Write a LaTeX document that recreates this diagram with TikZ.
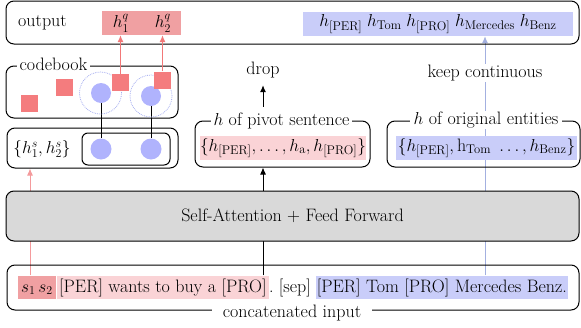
\documentclass[tikz,border=0pt]{standalone}
\usepackage{amsmath}
\usetikzlibrary{arrows.meta,backgrounds,calc}
\definecolor{qpink}{HTML}{F0A0A2}
\definecolor{sqred}{HTML}{F47C7E}
\definecolor{lpink}{HTML}{FAD3D6}
\definecolor{hblue}{HTML}{C9CDF9}
\definecolor{cblue}{HTML}{B0B3FD}
\definecolor{dblue}{HTML}{A6AEF0}
\definecolor{lineblue}{HTML}{A3B0E0}
\definecolor{arrowred}{HTML}{F27878}
\definecolor{lightred}{HTML}{F49A9C}
\definecolor{blockgray}{HTML}{D9D9D9}
\newcommand{\tsub}[1]{\text{#1}}

\begin{document}
\begin{tikzpicture}[x=1pt,y=-1pt,
  every node/.style={font=\fontsize{18}{22}\selectfont, inner sep=0pt},
  roundbox/.style={draw, line width=1pt, rounded corners=8pt},
  boxtag/.style={fill=white, inner xsep=3pt, inner ysep=1pt},
  hl/.style={inner xsep=2pt, text height=16.5pt, text depth=6.5pt},
  sq/.style={fill=sqred, minimum size=17pt},
  codept/.style={circle, fill=cblue, minimum size=20pt},
  halo/.style={circle, draw=dblue, densely dotted, line width=0.8pt, minimum size=42pt},
  tip/.style={-{Latex[length=7pt,width=6pt]}, line width=1pt},
]
\useasboundingbox (0,0) rectangle (581,327);

% ---- output row ----
\node[roundbox, minimum width=573pt, minimum height=43pt] (outbox) at (292.5,22.5) {};
\node[anchor=west] (outlbl) at (18,23) {output};
\node[fill=qpink, minimum width=79pt, minimum height=24pt] (hq) at (141.5,23) {};
\node (hq1) at (121,23) {$h_1^q$};
\node (hq2) at (163,23) {$h_2^q$};
\node[fill=hblue, minimum width=270pt, minimum height=24pt] (hout) at (438,24)
  {$h_{\tsub{[PER]}}\; h_{\tsub{Tom}}\; h_{\tsub{[PRO]}}\; h_{\tsub{Mercedes}}\; h_{\tsub{Benz}}$};

% ---- codebook ----
\node[roundbox, minimum width=172pt, minimum height=52pt] (codebook) at (92,92) {};
\node[boxtag] (cblbl) at (53.5,64) {codebook};
\node[halo] (halo1) at (100.5,93) {};
\node[halo] (halo2) at (151,96) {};
\node[codept] (c1) at (101,93) {};
\node[codept] (c2) at (151,96) {};
\node[sq] (sqA) at (29.5,103.5) {};
\node[sq] (sqB) at (64.5,87.5) {};
\node[sq] (sqC) at (120.5,82.5) {};
\node[sq] (sqD) at (162.5,80) {};

% ---- selected codes ----
\node[roundbox, minimum width=171pt, minimum height=40pt] (lowbox) at (92.5,148) {};
\node[roundbox, rounded corners=6pt, minimum width=88pt, minimum height=32pt] (inbox) at (126,149) {};
\node (hs) at (42,149) {$\{h_1^s, h_2^s\}$};
\node[codept, minimum size=21pt] (lc1) at (101,149) {};
\node[codept, minimum size=21pt] (lc2) at (151,149) {};

% ---- pivot sentence ----
\node[roundbox, minimum width=175pt, minimum height=46pt] (pivot) at (282.5,144) {};
\node[boxtag] (pivlbl) at (281.5,121) {$h$ of pivot sentence};
\node[fill=lpink, minimum width=166pt, minimum height=24pt] (pivhl) at (283,148)
  {$\{h_{\tsub{[PER]}}, \ldots, h_{\tsub{a}}, h_{\tsub{[PRO]}}\}$};
\node (drop) at (263,70) {drop};

% ---- original entities ----
\node[roundbox, minimum width=193pt, minimum height=46pt] (orig) at (483.5,144) {};
\node[boxtag, inner xsep=4pt] (origlbl) at (486,120) {$h$ of original entities};
\node[fill=hblue, minimum width=181pt, minimum height=24pt] (orighl) at (486.5,148)
  {$\{h_{\tsub{[PER]}}, \text{h}_{\tsub{Tom}}\ \ldots, h_{\tsub{Benz}}\}$};
\node[boxtag] (keep) at (485,73) {keep continuous};

% ---- encoder ----
\node[roundbox, fill=blockgray, minimum width=573pt, minimum height=50pt] (enc) at (292.5,216)
  {Self-Attention + Feed Forward};

% ---- concatenated input ----
\node[roundbox, minimum width=572pt, minimum height=45pt] (inp) at (293,287.5) {};
\node[boxtag, inner xsep=11pt] (inplbl) at (292,313) {concatenated input};
\node[hl, fill=qpink, anchor=base west, inner xsep=3pt] (s12) at (18,292) {$s_1\,s_2$};
\node[hl, fill=lpink, anchor=base west, inner xsep=2pt] (pinkseg) at ([xshift=1pt]s12.base east) {[PER] wants to buy a [PRO]};
\node[hl, anchor=base west, inner xsep=0pt] (sep) at (pinkseg.base east) {.\ [sep]};
\node[hl, fill=hblue, anchor=base west, inner xsep=1pt] (blueseg) at ([xshift=4.5pt]sep.base east) {[PER] Tom [PRO] Mercedes Benz.};

% ---- connectors ----
\coordinate (px) at (30,0);
\begin{pgfonlayer}{background}
  \draw[line width=1pt] (c1) -- (lc1);
  \draw[line width=1pt] (c2) -- (lc2);
  \draw[tip, lightred] (s12.north -| px) -- (lowbox.south -| px);
  \draw[tip] (pinkseg.north -| drop) -- (pivot.south -| drop);
  \draw[tip, lineblue] (blueseg.north -| keep) -- (hout.south -| keep);
\end{pgfonlayer}
\draw[tip, arrowred] (sqC.north) -- (sqC.north |- hq.south);
\draw[tip, arrowred] (sqD.north) -- (sqD.north |- hq.south);
\draw[tip] ($(pivlbl.north -| drop)+(0,-5)$) -- ($(drop.south)+(0,7)$);
\end{tikzpicture}
\end{document}
